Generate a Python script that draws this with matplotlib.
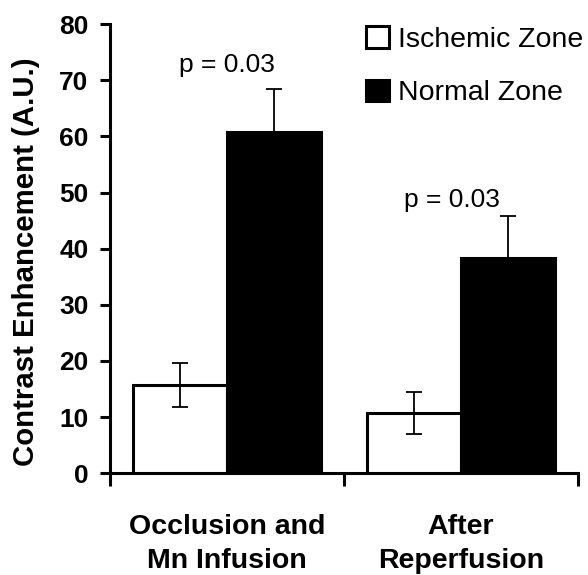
import matplotlib.pyplot as plt
import numpy as np

plt.rcParams['font.family'] = ['Liberation Sans', 'DejaVu Sans']

groups = ["Occlusion and\nMn Infusion", "After\nReperfusion"]
series_names = ["Ischemic Zone", "Normal Zone"]
ischemic = [15.7, 10.7]
ischemic_err = [3.9, 3.8]
normal = [60.8, 38.4]
normal_err = [7.6, 7.5]
p_labels = ["p = 0.03", "p = 0.03"]
p_pos = [(0.0, 72.7), (0.96, 48.6)]

fig = plt.figure(figsize=(5.88, 5.75), dpi=100)
ax = fig.add_axes([0.187, 0.177, 0.796, 0.781])

x = np.arange(len(groups))
w = 0.4
err_kw = dict(ecolor="black", elinewidth=1.3, capsize=5.5, capthick=1.3)
ax.bar(x - w / 2, ischemic, w, yerr=ischemic_err, color="white",
       edgecolor="black", linewidth=2.2, label=series_names[0],
       error_kw=err_kw, zorder=2)
ax.bar(x + w / 2, normal, w, yerr=normal_err, color="black",
       edgecolor="black", linewidth=2.2, label=series_names[1],
       error_kw=err_kw, zorder=2)

for txt, (px, py) in zip(p_labels, p_pos):
    ax.text(px, py, txt, ha="center", va="center", fontsize=19)

ax.set_xlim(-0.5, 1.5)
ax.set_ylim(0, 80)
ax.set_yticks(range(0, 81, 10))
ax.set_xticks(x)
ax.set_xticklabels(groups, fontsize=20.5, fontweight="bold", linespacing=1.4)
ax.set_xticks([-0.5, 0.5, 1.5], minor=True)
ax.tick_params(axis="x", which="major", length=0, pad=29)
ax.tick_params(axis="x", which="minor", length=9, width=2.2, direction="out")
ax.tick_params(axis="y", length=7.5, width=2.2, labelsize=19, pad=8)
for lab in ax.get_yticklabels():
    lab.set_fontweight("bold")

ax.set_ylabel("Contrast Enhancement (A.U.)", fontsize=21.2, fontweight="bold")
ax.yaxis.set_label_coords(-0.15, 0.47)

for s in ["top", "right"]:
    ax.spines[s].set_visible(False)
for s in ["left", "bottom"]:
    ax.spines[s].set_linewidth(2.2)

ax.legend(loc="upper left", bbox_to_anchor=(0.622, 0.955),
          bbox_transform=fig.transFigure, frameon=False, fontsize=20.5,
          handlelength=0.8, handleheight=0.8, handletextpad=0.35,
          labelspacing=0.95, borderpad=0, borderaxespad=0)

fig.savefig("out.png", dpi=100)
